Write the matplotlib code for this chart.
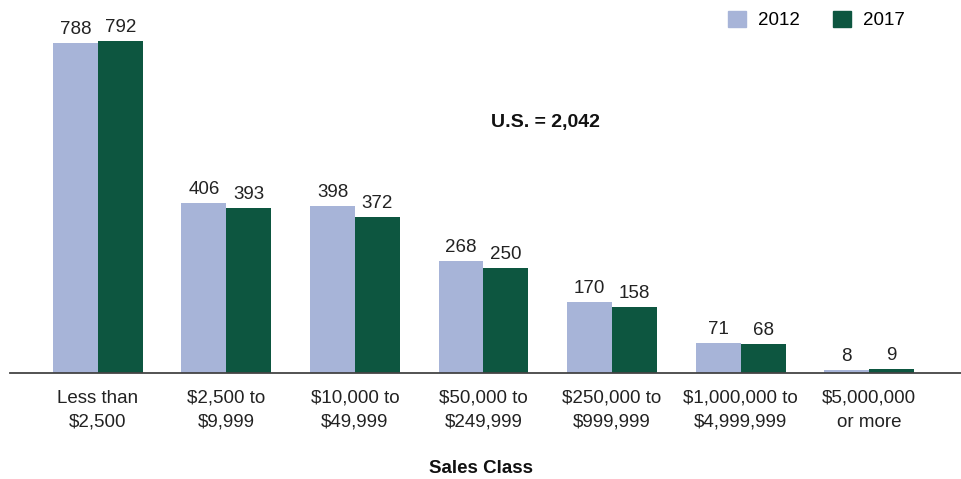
import numpy as np
import matplotlib.pyplot as plt
from matplotlib.patches import Patch

plt.rcParams['font.family'] = ['Liberation Sans', 'DejaVu Sans']

categories = ['Less than\n$2,500', '$2,500 to\n$9,999', '$10,000 to\n$49,999',
              '$50,000 to\n$249,999', '$250,000 to\n$999,999', '$1,000,000 to\n$4,999,999',
              '$5,000,000\nor more']
vals_2012 = [788, 406, 398, 268, 170, 71, 8]
vals_2017 = [792, 393, 372, 250, 158, 68, 9]
years = ['2012', '2017']
colors = ['#a7b4d8', '#0d5640']

fig = plt.figure(figsize=(9.62, 4.79), dpi=100)
ax = fig.add_axes([0.0104, 0.2213, 0.9896, 0.7787])

x = np.arange(len(categories))
w = 0.35
b1 = ax.bar(x - w / 2, vals_2012, w, color=colors[0])
b2 = ax.bar(x + w / 2, vals_2017, w, color=colors[1])
for bars in (b1, b2):
    for r in bars:
        ax.text(r.get_x() + r.get_width() / 2, r.get_height() + 12, f'{r.get_height():.0f}',
                ha='center', va='bottom', fontsize=13.5, color='#222222')

ax.set_xlim(-0.684, 6.723)
ax.set_ylim(0, 890)
ax.set_xticks(x)
ax.set_xticklabels(categories, fontsize=13.5, color='#222222', linespacing=1.55)
ax.tick_params(axis='x', length=0, pad=12)
ax.set_yticks([])
for s in ['top', 'right', 'left']:
    ax.spines[s].set_visible(False)
ax.spines['bottom'].set_color('#444444')
ax.spines['bottom'].set_linewidth(1.3)

fig.text(0.5, 0.005, 'Sales Class', ha='center', va='bottom', fontsize=13.5,
         fontweight='bold', color='#111111')
fig.text(0.567, 0.745, 'U.S. = 2,042', ha='center', va='center',
         fontsize=14, fontweight='bold', color='#111111')

handles = [Patch(color=c) for c in colors]
ax.legend(handles, years, loc='upper right', bbox_to_anchor=(0.958, 1.017), ncol=2,
          frameon=False, fontsize=13.5, handlelength=0.95, handleheight=0.95,
          columnspacing=1.8, handletextpad=0.64)

fig.savefig('out.png', dpi=100)
